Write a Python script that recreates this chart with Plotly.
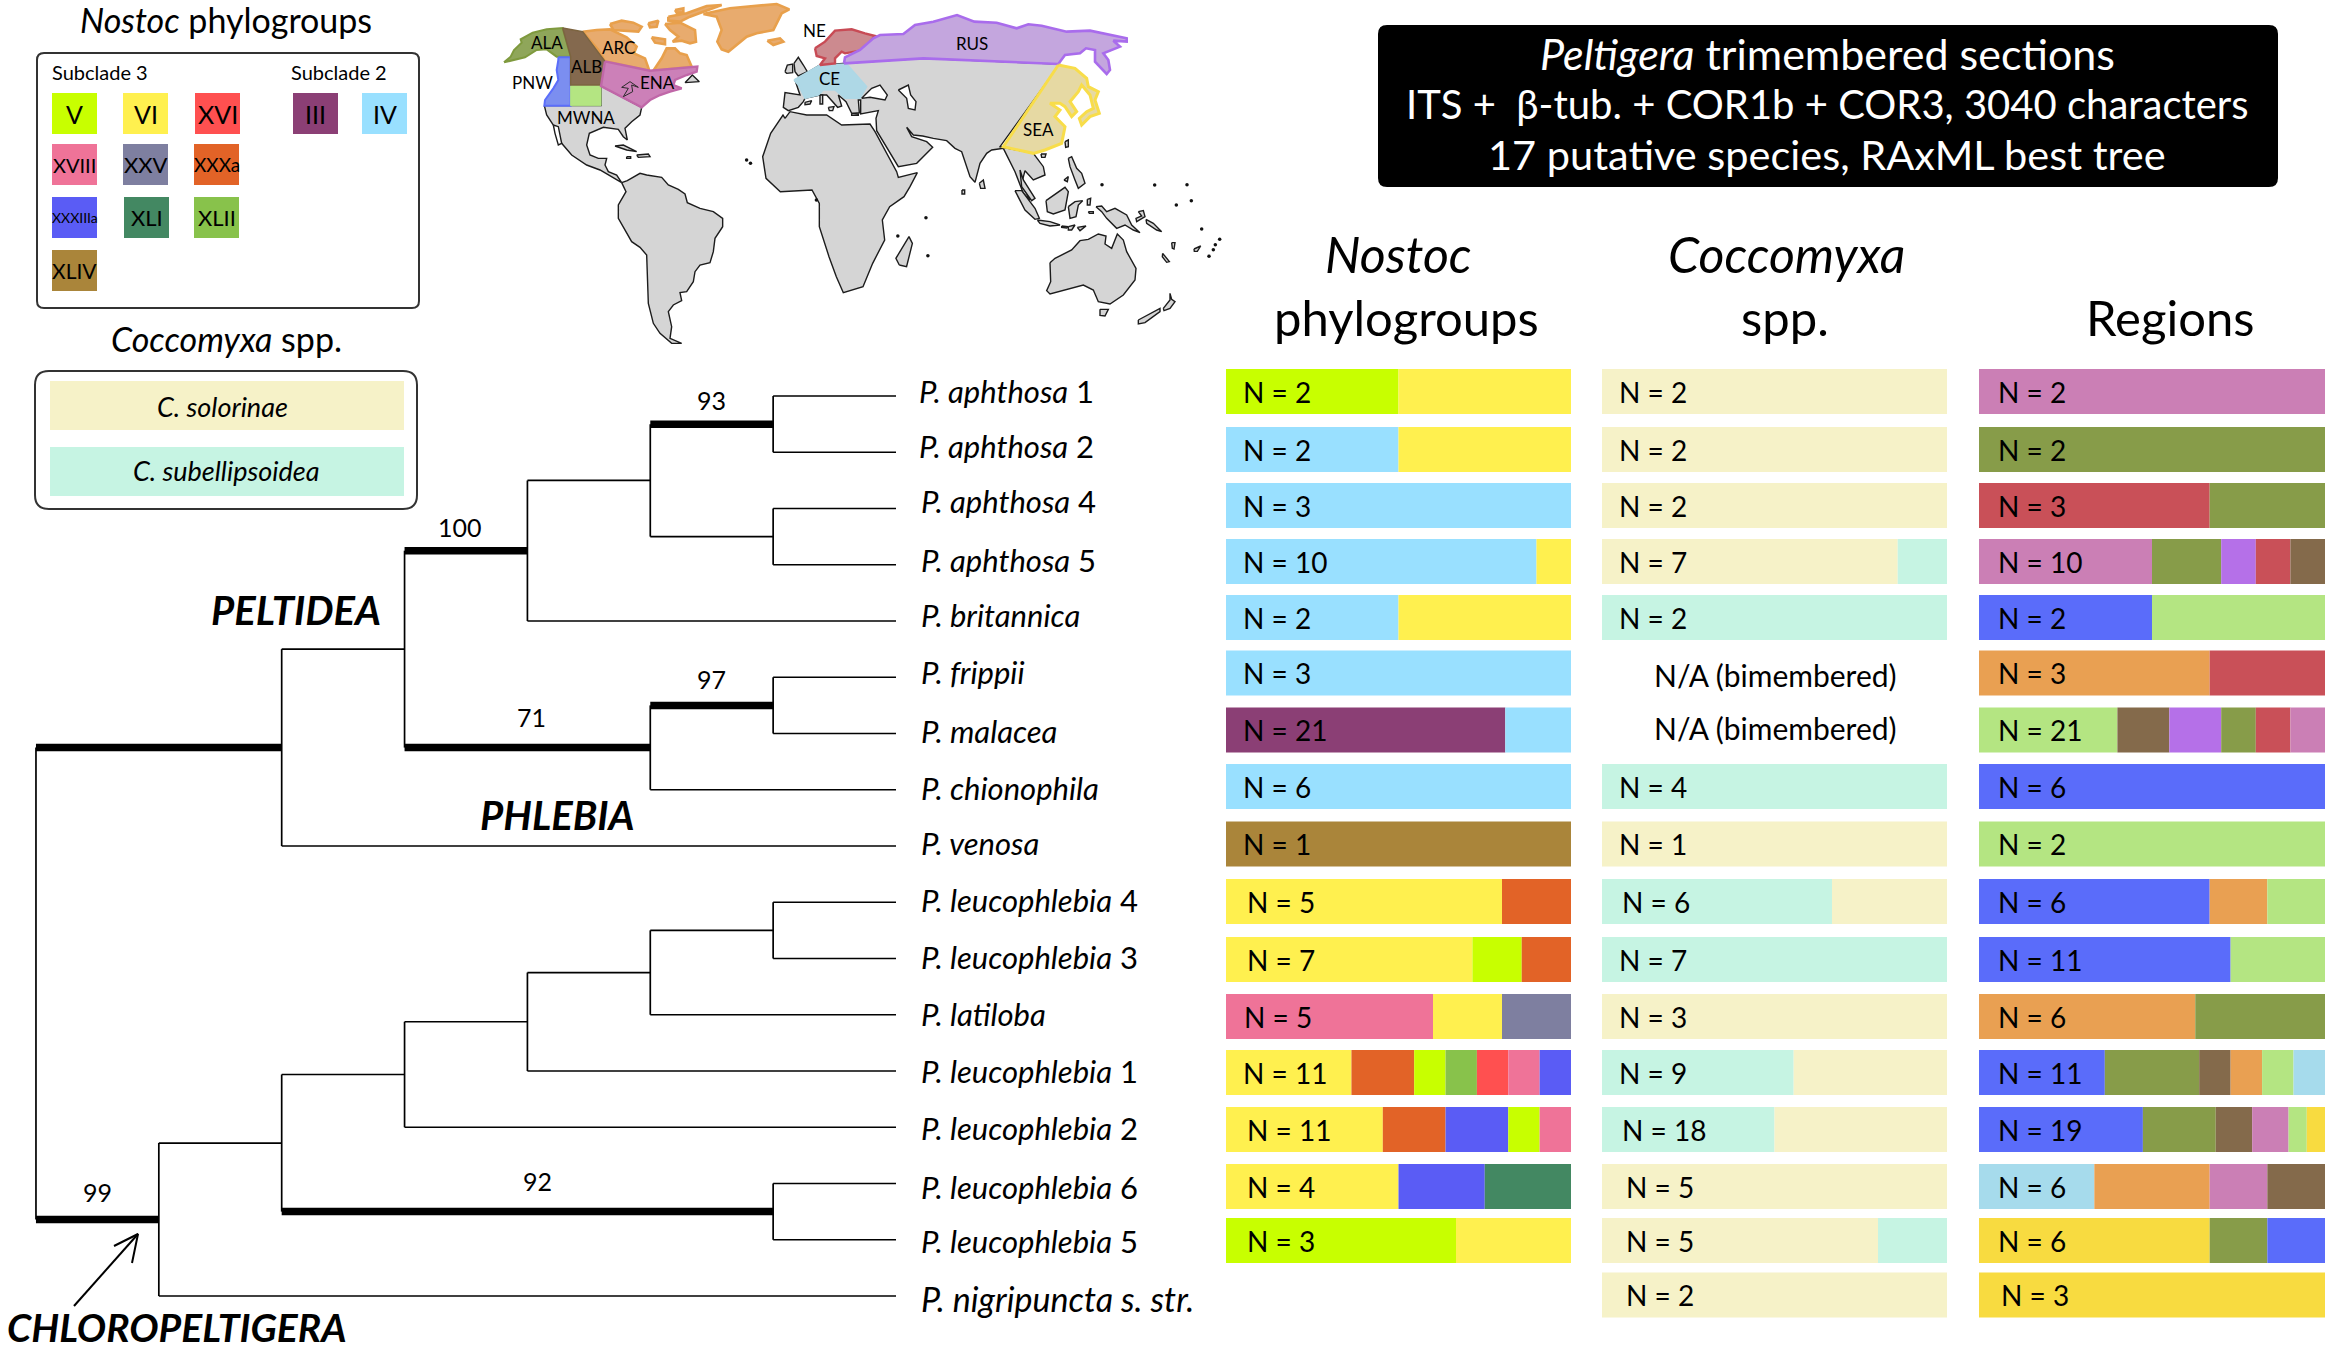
import plotly.graph_objects as go

W, H = 2330, 1352
FONT = "Lato"

# ---- data ----
TAXA = [
    "P. aphthosa 1", "P. aphthosa 2", "P. aphthosa 4", "P. aphthosa 5", "P. britannica",
    "P. frippii", "P. malacea", "P. chionophila", "P. venosa",
    "P. leucophlebia 4", "P. leucophlebia 3", "P. latiloba", "P. leucophlebia 1",
    "P. leucophlebia 2", "P. leucophlebia 6", "P. leucophlebia 5", "P. nigripuncta s. str.",
]

NOSTOC_N = [2, 2, 3, 10, 2, 3, 21, 6, 1, 5, 7, 5, 11, 11, 4, 3, None]
NOSTOC = [
    [("V", 1), ("VI", 1)],
    [("IV", 1), ("VI", 1)],
    [("IV", 3)],
    [("IV", 9), ("VI", 1)],
    [("IV", 1), ("VI", 1)],
    [("IV", 3)],
    [("III", 17), ("IV", 4)],
    [("IV", 6)],
    [("XLIV", 1)],
    [("VI", 4), ("XXXa", 1)],
    [("VI", 5), ("V", 1), ("XXXa", 1)],
    [("XVIII", 3), ("VI", 1), ("XXV", 1)],
    [("VI", 4), ("XXXa", 2), ("V", 1), ("XLII", 1), ("XVI", 1), ("XVIII", 1), ("XXXIIIa", 1)],
    [("VI", 5), ("XXXa", 2), ("XXXIIIa", 2), ("V", 1), ("XVIII", 1)],
    [("VI", 2), ("XXXIIIa", 1), ("XLI", 1)],
    [("V", 2), ("VI", 1)],
    [],
]

COCCO_N = [2, 2, 2, 7, 2, None, None, 4, 1, 6, 7, 3, 9, 18, 5, 5, 2]
COCCO = [
    [("sol", 2)],
    [("sol", 2)],
    [("sol", 2)],
    [("sol", 6), ("sub", 1)],
    [("sub", 2)],
    [],
    [],
    [("sub", 4)],
    [("sol", 1)],
    [("sub", 4), ("sol", 2)],
    [("sub", 7)],
    [("sol", 3)],
    [("sub", 5), ("sol", 4)],
    [("sub", 9), ("sol", 9)],
    [("sol", 5)],
    [("sol", 4), ("sub", 1)],
    [("sol", 2)],
]

REGION_N = [2, 2, 3, 10, 2, 3, 21, 6, 2, 6, 11, 6, 11, 19, 6, 6, 3]
REGIONS = [
    [("ENA", 2)],
    [("ALA", 2)],
    [("NE", 2), ("ALA", 1)],
    [("ENA", 5), ("ALA", 2), ("RUS", 1), ("NE", 1), ("ALB", 1)],
    [("PNW", 1), ("MWNA", 1)],
    [("ARC", 2), ("NE", 1)],
    [("MWNA", 8), ("ALB", 3), ("RUS", 3), ("ALA", 2), ("NE", 2), ("ENA", 2)],
    [("PNW", 6)],
    [("MWNA", 2)],
    [("PNW", 4), ("ARC", 1), ("MWNA", 1)],
    [("PNW", 8), ("MWNA", 3)],
    [("ARC", 5), ("ALA", 3)],
    [("PNW", 4), ("ALA", 3), ("ALB", 1), ("ARC", 1), ("MWNA", 1), ("CE", 1)],
    [("PNW", 9), ("ALA", 4), ("ALB", 2), ("ENA", 2), ("MWNA", 1), ("SEA", 1)],
    [("CE", 2), ("ARC", 2), ("ENA", 1), ("ALB", 1)],
    [("SEA", 4), ("ALA", 1), ("PNW", 1)],
    [("SEA", 3)],
]

# (level, support, children); support None = thin branch, "" = thick without a number
TREE = (0, None, [
    (2, "", [
        (3, None, [
            (4, "100", [
                (5, None, [(6, "93", [0, 1]), (6, None, [2, 3])]),
                4,
            ]),
            (5, "71", [(6, "97", [5, 6]), 7]),
        ]),
        8,
    ]),
    (1, "99", [
        (2, None, [
            (3, None, [
                (4, None, [
                    (5, None, [(6, None, [9, 10]), 11]),
                    12,
                ]),
                13,
            ]),
            (6, "92", [14, 15]),
        ]),
        16,
    ]),
])

GREENLAND = [(640, 42), (720, 25), (860, 12), (898, 28), (875, 40), (850, 90), (800, 100), (770, 110),
             (715, 155), (695, 148), (682, 125), (695, 90), (680, 50)]
ARCTIC_ISLANDS = [
    [(360, 72), (395, 62), (430, 68), (455, 80), (445, 95), (400, 92), (370, 90)],
    [(475, 70), (505, 62), (500, 80), (480, 82)],
    [(525, 72), (570, 68), (615, 90), (618, 125), (600, 130), (575, 122), (548, 125), (565, 110), (540, 90)],
    [(485, 112), (525, 118), (525, 133), (495, 128)],
    [(535, 50), (590, 40), (650, 18), (695, 15), (640, 35), (600, 50), (570, 65), (535, 62)],
    [(555, 30), (580, 25), (580, 38), (560, 38)],
    [(832, 122), (870, 115), (880, 125), (850, 135)],
]
ALA_OUTLINE = [(42, 187), (62, 170), (72, 150), (95, 128), (92, 118), (128, 98), (170, 88), (218, 84), (242, 170),
               (200, 170), (170, 148), (140, 150), (105, 172), (80, 178)]
ALB_OUTLINE = [(218, 84), (278, 95), (345, 184), (333, 255), (242, 255), (242, 170)]
ARC_OUTLINE = [(278, 95), (320, 90), (360, 88), (385, 100), (410, 112), (440, 140), (432, 160), (465, 175), (478, 212),
               (345, 184), (325, 150)]
ARC_QUEBEC = [(490, 212), (515, 175), (530, 145), (555, 145), (570, 160), (590, 165), (605, 200)]
ENA_OUTLINE = [(345, 184), (480, 212), (622, 200), (620, 215), (590, 225), (555, 240), (550, 255), (575, 265),
               (540, 275), (510, 285), (480, 300), (455, 322), (333, 258)]
PNW_OUTLINE = [(205, 172), (242, 172), (242, 317), (163, 317), (165, 300), (190, 265), (205, 240), (200, 210), (205, 180)]
MWNA_OUTLINE = [(242, 257), (333, 257), (333, 317), (242, 317)]
NORTH_AMERICA = [(163, 317), (170, 345), (190, 375), (215, 430), (245, 465), (290, 495), (330, 510), (385, 540), (395, 548),
                 (380, 525), (355, 515), (345, 495), (350, 475), (325, 475), (300, 465), (290, 435), (298, 400), (340, 382),
                 (385, 388), (400, 410), (412, 420), (405, 385), (425, 365), (450, 345), (455, 322), (333, 258), (333, 317)]
BAJA = [(190, 375), (205, 380), (215, 430), (205, 435), (195, 400)]
CARIBBEAN = [
    [(375, 438), (400, 435), (440, 455), (410, 450)],
    [(440, 465), (475, 462), (480, 470), (445, 472)],
    [(410, 470), (422, 470), (422, 475), (410, 475)],
    [(585, 248), (607, 225), (628, 245)],
]
GREAT_LAKES = [(395, 262), (420, 245), (445, 262), (425, 255), (428, 275), (400, 290), (415, 265), (395, 262)]
SOUTH_AMERICA = [(245, 38), (262, 32), (300, 10), (320, 15), (365, 22), (385, 45), (415, 58), (435, 72), (442, 98),
                 (480, 115), (520, 125), (548, 145), (548, 170), (525, 205), (520, 245), (510, 278), (480, 285),
                 (465, 305), (460, 335), (440, 365), (420, 368), (425, 392), (400, 405), (385, 425), (395, 470),
                 (390, 505), (425, 520), (395, 520), (360, 490), (340, 460), (325, 400), (320, 255), (300, 232),
                 (275, 215), (235, 145), (235, 105), (258, 65)]
AFRICA = [(45, 295), (60, 275), (110, 285), (170, 285), (215, 315), (300, 312), (315, 335), (380, 455), (385, 472),
          (442, 458), (420, 500), (402, 530), (359, 560), (337, 600), (344, 660), (308, 730), (279, 800), (220, 818),
          (199, 770), (177, 710), (148, 620), (148, 550), (126, 510), (31, 515), (-12, 475), (-22, 410), (2, 340), (39, 285)]
EURASIA = [(220, 130), (460, 115), (870, 132), (690, 380), (790, 400), (820, 440), (825, 465), (790, 480), (765, 452),
           (755, 490), (780, 540), (760, 520), (735, 455), (700, 385), (665, 390), (650, 400), (630, 430), (615, 487),
           (600, 470), (575, 395), (555, 385), (530, 362), (490, 355), (458, 348), (430, 345), (410, 322), (425, 350),
           (470, 365), (488, 382), (440, 430), (385, 440), (345, 375), (320, 332), (318, 295), (325, 272), (272, 282),
           (272, 240), (265, 240), (268, 278), (245, 280), (228, 245), (205, 225), (215, 258), (203, 262), (170, 225),
           (150, 225), (105, 235), (100, 245), (85, 262), (55, 272), (40, 262), (45, 218), (90, 225), (75, 180),
           (115, 155), (150, 135)]
EUROPE_ISLANDS = [
    [(45, 155), (52, 135), (68, 132), (68, 158), (50, 160)],
    [(72, 130), (85, 112), (100, 135), (112, 155), (85, 168), (75, 155)],
    [(150, 225), (158, 225), (158, 252), (150, 252)],
    [(245, 280), (265, 282), (265, 286), (245, 286)],
    [(105, 247), (125, 242), (120, 252), (105, 254)],
    [(175, 262), (192, 260), (188, 272), (178, 272)],
    [(628, 490), (640, 480), (645, 505), (632, 505)],
    [(576, 510), (584, 510), (584, 522), (576, 522)],
]
BLACK_SEA = [(275, 235), (305, 205), (330, 195), (352, 225), (345, 240), (300, 232)]
CASPIAN = [(385, 210), (415, 195), (422, 225), (438, 245), (435, 270), (415, 265), (410, 235)]
NE_OUTLINE = [(135, 85), (165, 65), (195, 32), (245, 28), (285, 40), (315, 48), (295, 70), (270, 92), (225, 100),
              (215, 95), (195, 115), (195, 130), (150, 135), (165, 115), (140, 108)]
CE_OUTLINE = [(72, 180), (115, 155), (150, 135), (230, 132), (290, 200), (270, 235), (225, 235), (195, 210), (160, 210),
              (145, 225), (105, 235), (85, 195)]
RUS_OUTLINE = [(222, 130), (225, 112), (270, 90), (310, 55), (330, 45), (400, 42), (435, 15), (490, 5), (561, -15),
               (613, 5), (680, 8), (740, 25), (775, 13), (815, 17), (890, 35), (960, 32), (1070, 55), (1070, 65),
               (1030, 62), (1050, 80), (1000, 100), (1015, 120), (1020, 150), (1010, 162), (975, 125), (975, 90),
               (948, 85), (930, 100), (885, 105), (865, 132), (460, 115)]
SEA_OUTLINE = [(235, 135), (285, 145), (320, 175), (325, 200), (355, 215), (345, 240), (358, 280), (330, 290), (305, 315),
               (298, 295), (320, 275), (340, 265), (330, 225), (305, 195), (295, 215), (270, 245), (290, 275), (275, 290),
               (255, 260), (240, 250), (210, 250), (240, 270), (225, 290), (255, 320), (245, 370), (195, 390), (160, 400), (70, 380)]
ASIA_ISLANDS = [
    [(183, 402), (198, 402), (195, 412), (185, 412)],
    [(255, 365), (265, 360), (265, 380), (257, 382)],
    [(265, 415), (275, 410), (290, 445), (305, 460), (315, 490), (295, 505), (285, 480), (270, 440)],
    [(252, 480), (265, 470), (262, 485)],
]
OCEANIA = [
    [(60, 0), (70, 30), (105, 85), (95, 92), (65, 50)],
    [(45, 62), (65, 62), (105, 115), (118, 145), (105, 148), (75, 120)],
    [(138, 92), (170, 70), (195, 52), (205, 65), (195, 120), (160, 132), (142, 125)],
    [(205, 110), (225, 95), (248, 92), (235, 105), (228, 140), (210, 145)],
    [(112, 150), (150, 155), (180, 165), (150, 168), (120, 160)],
    [(185, 168), (205, 170), (200, 174), (185, 172)],
    [(205, 170), (225, 165), (215, 180), (205, 180)],
    [(232, 172), (258, 168), (240, 182)],
    [(262, 88), (272, 85), (270, 105), (262, 105)],
    [(265, 125), (280, 125), (280, 130), (268, 130)],
    [(288, 110), (305, 108), (320, 125), (345, 115), (380, 135), (395, 165), (420, 188), (400, 180), (375, 165),
     (350, 175), (320, 145), (305, 125)],
    [(415, 125), (430, 122), (435, 140), (410, 155), (408, 145), (425, 138)],
    [(438, 148), (460, 160), (485, 185), (470, 180), (440, 160)],
    [(150, 278), (165, 265), (215, 240), (240, 212), (265, 208), (295, 192), (318, 198), (315, 222), (335, 235),
     (352, 192), (370, 210), (380, 245), (408, 295), (405, 330), (370, 375), (330, 402), (295, 395), (280, 360),
     (250, 345), (190, 360), (150, 372), (140, 362), (152, 335)],
    [(300, 418), (325, 418), (315, 438), (300, 436)],
    [(415, 450), (480, 415), (480, 425), (435, 458), (415, 462)],
    [(490, 415), (510, 390), (510, 370), (515, 388), (525, 395), (510, 415), (492, 422)],
    [(488, 250), (508, 275), (500, 277), (487, 260)],
    [(515, 218), (525, 218), (522, 237), (517, 235)],
    [(582, 237), (602, 228), (592, 244), (583, 244)],
]
OCEANIA_DOTS = [(306, 44), (464, 45), (561, 44), (529, 105), (574, 92), (605, 177), (659, 208), (646, 224), (640, 239), (627, 259)]
MADAGASCAR = [(865, 795), (858, 775), (885, 710), (892, 730), (880, 800)]
INDIAN_DOTS = [(920, 653), (924, 767), (862, 708), (550, 480), (558, 490), (694, 600)]

# ---- styles and placement ----
PHYLO_COLORS = {"V": "#c8ff00", "VI": "#fff04f", "XVI": "#ff5050", "III": "#8b3f75", "IV": "#99e0ff",
                "XVIII": "#ef7398", "XXV": "#7e7fa0", "XXXa": "#e26327", "XXXIIIa": "#5a5cf5",
                "XLI": "#438862", "XLII": "#88c24b", "XLIV": "#aa853a"}
COCCO_COLORS = {"sol": "#f6f2c8", "sub": "#c6f4e3"}
REGION_COLORS = {"ENA": "#cb7fb5", "ALA": "#879c49", "NE": "#c95058", "ARC": "#e9a052", "ALB": "#846a4b",
                 "RUS": "#b570e8", "PNW": "#5a6cfa", "MWNA": "#b4e582", "CE": "#a6dbec", "SEA": "#f8db40"}

ROW_Y = [391.5, 449.5, 505.5, 561.5, 617.5, 673, 730, 786.5, 844, 901.5, 959.5, 1016.5, 1072.5, 1129.5, 1186.5, 1240.5, 1295]
TIP_LABEL_Y = [391, 446, 501, 560, 615, 672, 731, 788, 843, 900, 957, 1014, 1071, 1128, 1187, 1241, 1298]
NOSTOC_LABEL_X = [1241] * 9 + [1245, 1245, 1242, 1241, 1245, 1245, 1245, 1245]
COCCO_LABEL_X = [1617] * 9 + [1620, 1617, 1617, 1617, 1620, 1624, 1624, 1624]
REGION_LABEL_X = [1996] * 16 + [1999]
# small shifts (px) of the support values away from the branch midpoint
SUPPORT_SHIFT = {"100": (-6, 24), "93": (0, 24), "71": (4, 31), "97": (0, 26), "99": (0, 28), "92": (10, 31)}


def page(pts, ox, oy, sx=3.0, sy=3.0):
    # crop coordinates to page pixels
    return [ox + p[0] / sx for p in pts], [oy + p[1] / sy for p in pts]


def north_am(pts):
    return page(pts, 490, 0)


def south_am(pts):
    return page(pts, 540, 170)


def old_world(pts):
    return page(pts, 770, 20)


def east_asia(pts):
    return page(pts, 980, 20)


def oceania(pts):
    return page(pts, 1000, 170)


def overview(pts):
    return page(pts, 480, 0, 2.063, 3.0)


fig = go.Figure()
annotations = []
shapes = []


def label(x, y, text, size, color="black", anchor="center"):
    annotations.append(dict(x=x, y=y, text=text, xref="x", yref="y", showarrow=False, xanchor=anchor,
                            yanchor="middle", font=dict(family=FONT, size=size, color=color)))


def land(xy, fill="#d5d5d5", line="#1c1c1c", width=1.4):
    x, y = xy
    fig.add_trace(go.Scatter(x=x + x[:1], y=y + y[:1], mode="lines", fill="toself", fillcolor=fill,
                             line=dict(color=line, width=width), hoverinfo="skip", showlegend=False))


def box(x0, x1, y0, y1, fill=None, line=None, r=0, width=2):
    style = dict(type="path", xref="x", yref="y", fillcolor=fill or "rgba(0,0,0,0)",
                 line=dict(color=line or "rgba(0,0,0,0)", width=width if line else 0))
    style["path"] = (f"M{x0+r},{y0} L{x1-r},{y0} Q{x1},{y0} {x1},{y0+r} L{x1},{y1-r} Q{x1},{y1} {x1-r},{y1} "
                     f"L{x0+r},{y1} Q{x0},{y1} {x0},{y1-r} L{x0},{y0+r} Q{x0},{y0} {x0+r},{y0} Z")
    shapes.append(style)


# ---- world map ----
land(old_world(EURASIA))
land(old_world(AFRICA))
land(north_am(NORTH_AMERICA))
land(south_am(SOUTH_AMERICA))
land(overview(MADAGASCAR))
land(north_am(BAJA), fill="#ffffff")
for part in CARIBBEAN:
    land(north_am(part))
for part in EUROPE_ISLANDS:
    land(old_world(part))
for part in ASIA_ISLANDS:
    land(east_asia(part))
for part in OCEANIA:
    land(oceania(part))

ORANGE = dict(fill="#e8ab6e", line="#e8a04c", width=2.6)
land(north_am(GREENLAND), **ORANGE)
for part in ARCTIC_ISLANDS:
    land(north_am(part), **ORANGE)
land(north_am(ARC_OUTLINE), **ORANGE)
land(north_am(ARC_QUEBEC), **ORANGE)
land(north_am(ALA_OUTLINE), fill="#8fa65a", line="#7f9a3e", width=2)
land(north_am(PNW_OUTLINE), fill="#7b8ef0", line="#5b6efa", width=2)
land(north_am(MWNA_OUTLINE), fill="#b4e582", line="#b4e582", width=1)
land(north_am(ALB_OUTLINE), fill="#84694e", line="#7c6440", width=1.5)
land(north_am(ENA_OUTLINE), fill="#cc80b8", line="#c067a8", width=2.4)
land(old_world(CE_OUTLINE), fill="#aed8e6", line="#aed8e6", width=1.5)
land(old_world(NE_OUTLINE), fill="#cc8a8f", line="#c84b55", width=2.4)
land(old_world(RUS_OUTLINE), fill="#c4a6de", line="#a96cec", width=2.6)
land(east_asia(SEA_OUTLINE), fill="#e6d9a3", line="#f8dd4a", width=3)
land(old_world(BLACK_SEA), fill="#ffffff")
land(old_world(CASPIAN), fill="#ffffff")

lx, ly = north_am(GREAT_LAKES)
fig.add_trace(go.Scatter(x=lx, y=ly, mode="lines", line=dict(color="#2a2a2a", width=1), hoverinfo="skip", showlegend=False))
dx, dy = oceania(OCEANIA_DOTS)
ix, iy = overview(INDIAN_DOTS)
fig.add_trace(go.Scatter(x=dx + ix, y=dy + iy, mode="markers", marker=dict(color="#111111", size=3.5),
                         hoverinfo="skip", showlegend=False))

for name, x, y in [("ALA", 547, 42), ("ARC", 618, 47), ("ALB", 586, 66), ("PNW", 532, 82), ("ENA", 657, 82),
                   ("MWNA", 586, 117), ("NE", 814, 30), ("CE", 829, 78), ("RUS", 972, 43), ("SEA", 1038, 129)]:
    label(x, y, name, 17)


# ---- phylogeny ----
thin_x, thin_y, thick_x, thick_y = [], [], [], []
TIP_LEVEL = 7


def draw_node(node):
    # returns (level, y, support); children get connected to the vertical bar of this node
    if isinstance(node, int):
        return TIP_LEVEL, node, None
    level, support, children = node
    ys = []
    for child in children:
        child_level, child_y, child_support = draw_node(child)
        ys.append(child_y)
        if child_support is None:
            thin_x.extend([level, child_level, None])
            thin_y.extend([child_y, child_y, None])
        else:
            thick_x.extend([level, child_level, None])
            thick_y.extend([child_y, child_y, None])
            if child_support:
                xshift, yshift = SUPPORT_SHIFT[child_support]
                annotations.append(dict(x=(level + child_level) / 2, y=child_y, text=child_support, xref="x2", yref="y2",
                                        showarrow=False, xshift=xshift, yshift=yshift,
                                        font=dict(family=FONT, size=25, color="black")))
    thin_x.extend([level, level, None])
    thin_y.extend([ys[0], ys[-1], None])
    return level, (ys[0] + ys[-1]) / 2, support


draw_node(TREE)
fig.add_trace(go.Scatter(x=thin_x, y=thin_y, xaxis="x2", yaxis="y2", mode="lines", line=dict(color="black", width=1.7),
                         hoverinfo="skip", showlegend=False))
fig.add_trace(go.Scatter(x=thick_x, y=thick_y, xaxis="x2", yaxis="y2", mode="lines", line=dict(color="black", width=7.5),
                         hoverinfo="skip", showlegend=False))

for i, name in enumerate(TAXA):
    genus_part, _, last = name.rpartition(" ")
    if last.isdigit():
        text = f"<i>{genus_part}</i> {last}"
    else:
        text = f"<i>{name}</i>"
    label(917 if i < 2 else 919, TIP_LABEL_Y[i], text, 34 if i == 16 else 31, anchor="left")

label(296, 610, "<b><i>PELTIDEA</i></b>", 40)
label(557, 815, "<b><i>PHLEBIA</i></b>", 40)
label(177, 1327, "<b><i>CHLOROPELTIGERA</i></b>", 39)

# arrow to the Chloropeltigera branch
ARROW_X = [74, 138, None, 114, 138, 132]
ARROW_Y = [1306, 1234, None, 1246, 1234, 1263]
fig.add_trace(go.Scatter(x=ARROW_X, y=ARROW_Y, mode="lines", line=dict(color="black", width=2), hoverinfo="skip", showlegend=False))


# ---- stacked bars ----
def bar_panel(rows, colors, axis):
    widths, bases, ys, cols = [], [], [], []
    for y, segments in zip(ROW_Y, rows):
        total = sum(c for _, c in segments)
        left = 0
        for name, count in segments:
            widths.append(count / total)
            bases.append(left)
            ys.append(y)
            cols.append(colors[name])
            left += count / total
    fig.add_trace(go.Bar(x=widths, base=bases, y=ys, orientation="h", width=45, xaxis=axis, yaxis="y",
                         marker=dict(color=cols, line=dict(width=0)), hoverinfo="skip", showlegend=False))


bar_panel(NOSTOC, PHYLO_COLORS, "x3")
bar_panel(COCCO, COCCO_COLORS, "x4")
bar_panel(REGIONS, REGION_COLORS, "x5")

for ns, xs in [(NOSTOC_N, NOSTOC_LABEL_X), (COCCO_N, COCCO_LABEL_X), (REGION_N, REGION_LABEL_X)]:
    for n, x, y in zip(ns, xs, ROW_Y):
        if n is not None:
            label(x, y, f"N = {n}", 28, anchor="left")
label(1775, 675, "N/A (bimembered)", 30)
label(1775, 728, "N/A (bimembered)", 30)

label(1398, 254, "<i>Nostoc</i>", 50)
label(1406, 317, "phylogroups", 49)
label(1786, 254, "<i>Coccomyxa</i>", 50)
label(1785, 317, "spp.", 49)
label(2170, 317, "Regions", 49)

# ---- title box ----
box(1378, 2278, 25, 187, fill="#000000", r=9)
label(1827, 53, "<i>Peltigera</i> trimembered sections", 43, color="white")
label(1827, 104, "ITS +  β-tub. + COR1b + COR3, 3040 characters", 40, color="white")
label(1827, 154, "17 putative species, RAxML best tree", 41.5, color="white")

# ---- legends ----
label(226, 19, "<i>Nostoc</i> phylogroups", 34)
box(37, 419, 53, 308, line="#333333", r=7)
label(100, 72, "Subclade 3", 20)
label(339, 72, "Subclade 2", 20)
SWATCHES = [("V", 52, 93, 25), ("VI", 123, 93, 25), ("XVI", 195, 93, 25), ("III", 293, 93, 25), ("IV", 362, 93, 25),
            ("XVIII", 52, 144, 20), ("XXV", 123, 144, 22), ("XXXa", 194, 144, 19),
            ("XXXIIIa", 52, 197, 14), ("XLI", 124, 197, 22), ("XLII", 194, 197, 22),
            ("XLIV", 52, 250, 21)]
for name, x, y, size in SWATCHES:
    box(x, x + 45, y, y + 41, fill=PHYLO_COLORS[name])
    label(x + 22.5, y + 20.5, name, size)

label(226, 338, "<i>Coccomyxa</i> spp.", 34)
box(35, 417, 371, 509, line="#333333", r=14)
box(50, 404, 381, 430, fill=COCCO_COLORS["sol"])
box(50, 404, 447, 496, fill=COCCO_COLORS["sub"])
label(222, 406, "<i>C. solorinae</i>", 27)
label(226, 470, "<i>C. subellipsoidea</i>", 27)

hidden = dict(visible=False, fixedrange=True)
fig.update_layout(
    width=W, height=H, margin=dict(l=0, r=0, t=0, b=0), paper_bgcolor="white", plot_bgcolor="rgba(0,0,0,0)",
    showlegend=False, barmode="overlay", font=dict(family=FONT), annotations=annotations, shapes=shapes,
    xaxis=dict(range=[0, W], domain=[0, 1], **hidden),
    yaxis=dict(range=[H, 0], domain=[0, 1], **hidden),
    # tree levels sit 123 px apart, rows 56.25 px apart
    xaxis2=dict(range=[-0.2, 7], domain=[(36 - 24.6) / W, 896 / W], anchor="y2", **hidden),
    yaxis2=dict(range=[16.5, -0.5], domain=[1 - (1296 + 28.1) / H, 1 - (396 - 28.1) / H], anchor="x2", **hidden),
    xaxis3=dict(range=[0, 1], domain=[1226 / W, 1571 / W], anchor="y", **hidden),
    xaxis4=dict(range=[0, 1], domain=[1602 / W, 1947 / W], anchor="y", **hidden),
    xaxis5=dict(range=[0, 1], domain=[1979 / W, 2325 / W], anchor="y", **hidden),
)

fig.write_html("out.html", config={"displayModeBar": False}, post_script="document.body.style.margin='0';")
